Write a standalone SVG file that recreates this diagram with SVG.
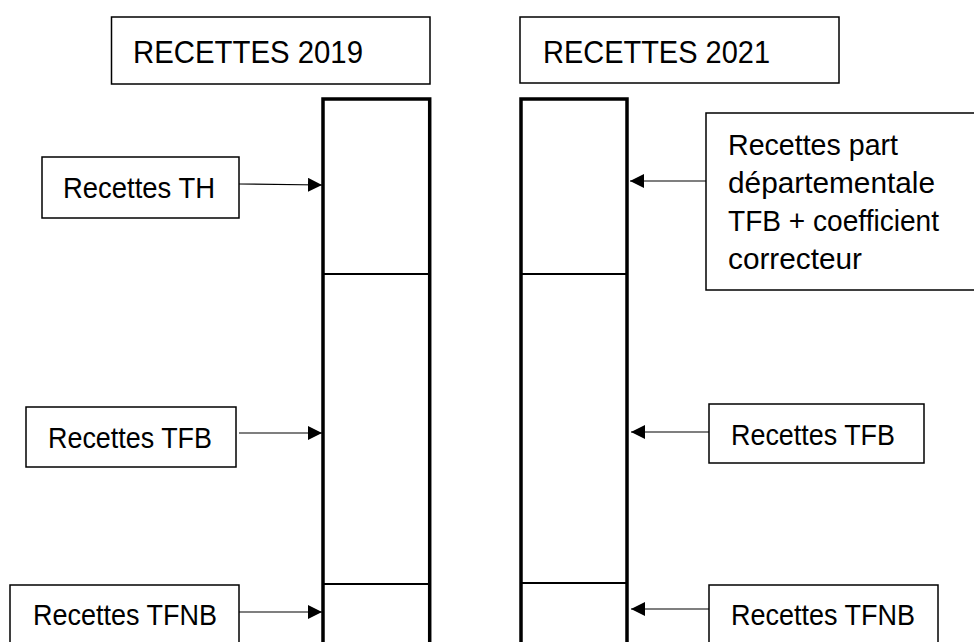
<svg xmlns="http://www.w3.org/2000/svg" width="974" height="642" viewBox="0 0 974 642">
<defs>
<style>
.box{fill:#fff;stroke:#000;stroke-width:1.5}
.col{fill:none;stroke:#000;stroke-width:3.5}
.div{stroke:#000;stroke-width:2.2}
.lbl{font-family:"Liberation Sans",Arial,sans-serif;font-size:29px;fill:#000}
.ttl{font-family:"Liberation Sans",Arial,sans-serif;font-size:32px;fill:#000}
.arr{stroke:#000;stroke-width:1.2;fill:none;marker-end:url(#ah)}
</style>
<marker id="ah" viewBox="0 0 14 14" refX="14" refY="7" markerWidth="14" markerHeight="14" markerUnits="userSpaceOnUse" orient="auto">
<path d="M0,0 L14,7 L0,14 Z" fill="#000"/>
</marker>
</defs>
<rect width="974" height="642" fill="#fff"/>
<g id="title2019">
<rect class="box" x="111.5" y="17" width="318.5" height="67"/>
<text class="ttl" x="133" y="63" textLength="230" lengthAdjust="spacingAndGlyphs">RECETTES 2019</text>
</g>
<g id="title2021">
<rect class="box" x="520" y="17" width="319" height="66"/>
<text class="ttl" x="543" y="63" textLength="227" lengthAdjust="spacingAndGlyphs">RECETTES 2021</text>
</g>
<g id="col2019">
<path class="col" d="M323,650 V99 H429.7 V650"/>
<line class="div" x1="323" y1="274" x2="429.7" y2="274"/>
<line class="div" x1="323" y1="584" x2="429.7" y2="584"/>
</g>
<g id="col2021">
<path class="col" d="M521,650 V99 H627 V650"/>
<line class="div" x1="521" y1="274" x2="627" y2="274"/>
<line class="div" x1="521" y1="583" x2="627" y2="583"/>
</g>
<g id="th2019">
<rect class="box" x="42" y="157" width="197" height="61"/>
<text class="lbl" x="63" y="198" textLength="152" lengthAdjust="spacingAndGlyphs">Recettes TH</text>
</g>
<g id="tfb2019">
<rect class="box" x="26" y="407" width="210" height="60"/>
<text class="lbl" x="48" y="448" textLength="164" lengthAdjust="spacingAndGlyphs">Recettes TFB</text>
</g>
<g id="tfnb2019">
<rect class="box" x="10" y="585" width="229" height="70"/>
<text class="lbl" x="33" y="625" textLength="184" lengthAdjust="spacingAndGlyphs">Recettes TFNB</text>
</g>
<g id="dep2021">
<rect class="box" x="706" y="113" width="272" height="177"/>
<text class="lbl" x="728" y="155" textLength="170" lengthAdjust="spacingAndGlyphs">Recettes part</text>
<text class="lbl" x="728" y="193" textLength="207" lengthAdjust="spacingAndGlyphs">départementale</text>
<text class="lbl" x="728" y="231" textLength="211" lengthAdjust="spacingAndGlyphs">TFB + coefficient</text>
<text class="lbl" x="728" y="269" textLength="134" lengthAdjust="spacingAndGlyphs">correcteur</text>
</g>
<g id="tfb2021">
<rect class="box" x="709" y="404" width="215" height="59"/>
<text class="lbl" x="731" y="445" textLength="164" lengthAdjust="spacingAndGlyphs">Recettes TFB</text>
</g>
<g id="tfnb2021">
<rect class="box" x="709" y="585" width="229" height="70"/>
<text class="lbl" x="731" y="625" textLength="184" lengthAdjust="spacingAndGlyphs">Recettes TFNB</text>
</g>
<g id="connectors">
<path class="arr" d="M239,184 L322,185"/>
<path class="arr" d="M239,433 L322,433"/>
<path class="arr" d="M239,612 L322,612"/>
<path class="arr" d="M706,181 L630,181"/>
<path class="arr" d="M709,432 L631,432"/>
<path class="arr" d="M709,609 L631,609"/>
</g>
</svg>
